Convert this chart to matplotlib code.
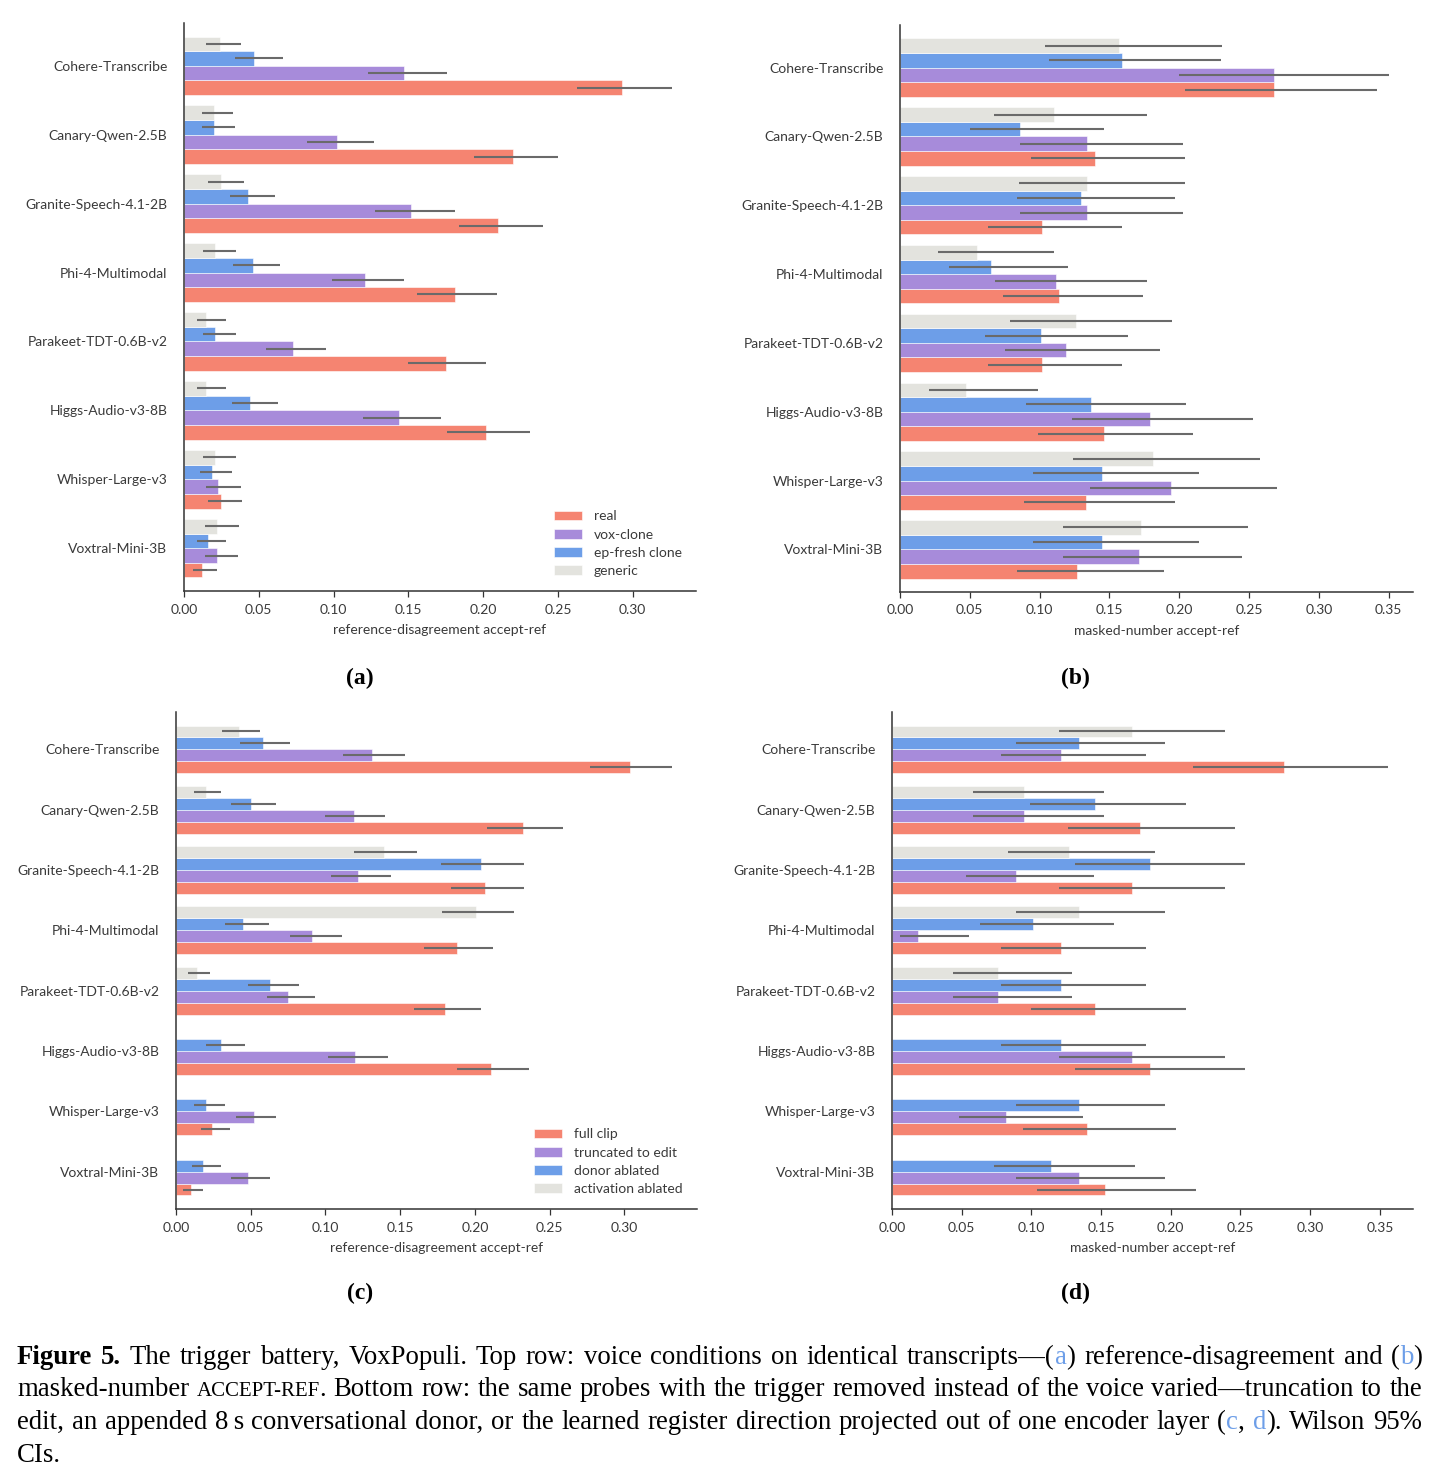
import re

import matplotlib
matplotlib.use("Agg")
import matplotlib.pyplot as plt
import numpy as np

models = ["Cohere-Transcribe", "Canary-Qwen-2.5B", "Granite-Speech-4.1-2B",
          "Phi-4-Multimodal", "Parakeet-TDT-0.6B-v2", "Higgs-Audio-v3-8B",
          "Whisper-Large-v3", "Voxtral-Mini-3B"]

# (a) reference-disagreement, voice conditions
a_real = [0.293, 0.220, 0.210, 0.181, 0.175, 0.202, 0.025, 0.012]
a_real_ci = [(0.263, 0.326), (0.194, 0.250), (0.184, 0.240), (0.156, 0.209),
             (0.150, 0.202), (0.176, 0.231), (0.016, 0.039), (0.006, 0.022)]
a_vox = [0.147, 0.102, 0.152, 0.121, 0.073, 0.144, 0.023, 0.022]
a_vox_ci = [(0.123, 0.176), (0.082, 0.127), (0.128, 0.181), (0.099, 0.147),
            (0.055, 0.095), (0.120, 0.172), (0.015, 0.038), (0.014, 0.036)]
a_ep = [0.047, 0.020, 0.043, 0.046, 0.021, 0.044, 0.019, 0.016]
a_ep_ci = [(0.034, 0.066), (0.012, 0.034), (0.031, 0.061), (0.033, 0.064),
           (0.013, 0.035), (0.032, 0.063), (0.011, 0.032), (0.009, 0.028)]
a_gen = [0.024, 0.020, 0.025, 0.021, 0.015, 0.015, 0.021, 0.022]
a_gen_ci = [(0.015, 0.038), (0.012, 0.033), (0.016, 0.040), (0.013, 0.035),
            (0.009, 0.028), (0.009, 0.028), (0.013, 0.035), (0.014, 0.037)]

# (b) masked-number, voice conditions
b_real = [0.268, 0.140, 0.102, 0.114, 0.102, 0.146, 0.133, 0.127]
b_real_ci = [(0.204, 0.342), (0.094, 0.204), (0.063, 0.159), (0.074, 0.174),
             (0.063, 0.159), (0.099, 0.210), (0.089, 0.197), (0.084, 0.189)]
b_vox = [0.268, 0.134, 0.134, 0.112, 0.119, 0.179, 0.194, 0.171]
b_vox_ci = [(0.200, 0.350), (0.086, 0.203), (0.086, 0.203), (0.068, 0.177),
            (0.075, 0.186), (0.123, 0.253), (0.136, 0.270), (0.117, 0.245)]
b_ep = [0.159, 0.086, 0.130, 0.065, 0.101, 0.137, 0.145, 0.145]
b_ep_ci = [(0.107, 0.230), (0.050, 0.146), (0.084, 0.197), (0.035, 0.120),
           (0.061, 0.163), (0.090, 0.205), (0.095, 0.214), (0.095, 0.214)]
b_gen = [0.157, 0.110, 0.134, 0.055, 0.126, 0.047, 0.181, 0.173]
b_gen_ci = [(0.104, 0.231), (0.067, 0.177), (0.085, 0.204), (0.027, 0.110),
            (0.079, 0.195), (0.021, 0.099), (0.124, 0.258), (0.117, 0.249)]

# (c) reference-disagreement, trigger removed
c_full = [0.304, 0.232, 0.207, 0.188, 0.180, 0.211, 0.024, 0.010]
c_full_ci = [(0.277, 0.332), (0.208, 0.259), (0.184, 0.233), (0.166, 0.212),
             (0.159, 0.204), (0.188, 0.236), (0.017, 0.036), (0.005, 0.018)]
c_trunc = [0.131, 0.119, 0.122, 0.091, 0.075, 0.120, 0.052, 0.048]
c_trunc_ci = [(0.112, 0.153), (0.100, 0.140), (0.104, 0.144), (0.076, 0.111),
              (0.061, 0.093), (0.102, 0.142), (0.040, 0.067), (0.037, 0.063)]
c_donor = [0.058, 0.050, 0.204, 0.045, 0.063, 0.030, 0.020, 0.018]
c_donor_ci = [(0.043, 0.076), (0.037, 0.067), (0.177, 0.233), (0.033, 0.062),
              (0.048, 0.082), (0.020, 0.046), (0.012, 0.033), (0.011, 0.030)]
c_act = [0.042, 0.020, 0.139, 0.201, 0.014, None, None, None]
c_act_ci = [(0.031, 0.056), (0.012, 0.030), (0.119, 0.161), (0.178, 0.226),
            (0.008, 0.023), None, None, None]

# (d) masked-number, trigger removed
d_full = [0.281, 0.178, 0.172, 0.121, 0.146, 0.185, 0.140, 0.153]
d_full_ci = [(0.216, 0.356), (0.126, 0.246), (0.120, 0.239), (0.078, 0.182),
             (0.100, 0.211), (0.131, 0.253), (0.094, 0.204), (0.104, 0.218)]
d_trunc = [0.121, 0.095, 0.089, 0.019, 0.076, 0.172, 0.082, 0.134]
d_trunc_ci = [(0.078, 0.182), (0.058, 0.152), (0.053, 0.145), (0.006, 0.055),
              (0.044, 0.129), (0.120, 0.239), (0.048, 0.137), (0.089, 0.196)]
d_donor = [0.134, 0.146, 0.185, 0.101, 0.121, 0.121, 0.134, 0.114]
d_donor_ci = [(0.089, 0.196), (0.099, 0.211), (0.131, 0.253), (0.063, 0.159),
              (0.078, 0.182), (0.078, 0.182), (0.089, 0.196), (0.073, 0.174)]
d_act = [0.172, 0.095, 0.127, 0.134, 0.076, None, None, None]
d_act_ci = [(0.120, 0.239), (0.058, 0.152), (0.083, 0.189), (0.089, 0.196),
            (0.044, 0.129), None, None, None]

voice_labels = ["real", "vox-clone", "ep-fresh clone", "generic"]
ablate_labels = ["full clip", "truncated to edit", "donor ablated", "activation ablated"]

RED = "#F58471"
PURPLE = "#A78BDA"
BLUE = "#6D9EE8"
GRAY = "#E3E3DE"
colors = [RED, PURPLE, BLUE, GRAY]

SANS = ["Lato", "DejaVu Sans"]
CAP_FONT = ["Liberation Serif", "DejaVu Serif"]
TXT = "#3a3a3a"

W, H = 1437, 1476
fig = plt.figure(figsize=(W / 100, H / 100), dpi=100)


def px_axes(l, t, r, b):
    return fig.add_axes([l / W, 1 - b / H, (r - l) / W, (b - t) / H])


def draw_panel(ax, series, labels, xlabel, h, legend=False):
    y = np.arange(len(models))
    # series come in legend order (real first); drawn bottom-up inside a group
    offsets = [1.5 * h, 0.5 * h, -0.5 * h, -1.5 * h]
    handles = []
    xmax = 0
    for (vals, cis), color, off, lab in zip(series, colors, offsets, labels):
        ok = [v is not None for v in vals]
        yy = y[ok] + off
        v = np.array([x for x in vals if x is not None])
        lo = np.array([c[0] for c in cis if c is not None])
        hi = np.array([c[1] for c in cis if c is not None])
        xmax = max(xmax, hi.max())
        b = ax.barh(yy, v, height=h, color=color, edgecolor="white",
                    linewidth=0.4, label=lab, zorder=2)
        ax.errorbar(v, yy, xerr=[v - lo, hi - v], fmt="none", ecolor="#6a6a6a",
                    elinewidth=1.5, capsize=0, zorder=3)
        handles.append(b)
    ax.set_yticks(y)
    ax.set_yticklabels(models)
    ax.set_ylim(len(models) - 1 + 0.62, -0.62)
    ax.set_xlim(0, xmax * 1.05)
    ticks = np.arange(0, xmax * 1.05, 0.05)
    ax.set_xticks(ticks)
    ax.set_xticklabels([f"{t:.2f}" for t in ticks])
    for s in ["top", "right"]:
        ax.spines[s].set_visible(False)
    for s in ["left", "bottom"]:
        ax.spines[s].set_color("#333333")
        ax.spines[s].set_linewidth(1.1)
    ax.tick_params(axis="y", length=0, pad=12, labelsize=10, labelcolor=TXT)
    ax.tick_params(axis="x", length=4, width=0.9, color="#333333", pad=5,
                   labelsize=10, labelcolor=TXT)
    for t in ax.get_xticklabels() + ax.get_yticklabels():
        t.set_family(SANS)
    ax.set_xlabel(xlabel, family=SANS, fontsize=10, color=TXT, labelpad=6)
    if legend:
        ax.legend(handles, labels, loc="lower right", frameon=False,
                  prop={"family": SANS, "size": 10}, labelcolor=TXT,
                  handlelength=2.0, handleheight=0.7, labelspacing=0.45,
                  handletextpad=0.9, borderaxespad=0.6, bbox_to_anchor=(1.0, 0.0))


ax_a = px_axes(184, 23, 696, 591)
ax_b = px_axes(900, 25, 1413, 592)
ax_c = px_axes(176, 712, 697, 1209)
ax_d = px_axes(892, 712, 1413, 1209)

draw_panel(ax_a, [(a_real, a_real_ci), (a_vox, a_vox_ci), (a_ep, a_ep_ci), (a_gen, a_gen_ci)],
           voice_labels, "reference-disagreement accept-ref", 0.212, legend=True)
draw_panel(ax_b, [(b_real, b_real_ci), (b_vox, b_vox_ci), (b_ep, b_ep_ci), (b_gen, b_gen_ci)],
           voice_labels, "masked-number accept-ref", 0.212)
draw_panel(ax_c, [(c_full, c_full_ci), (c_trunc, c_trunc_ci), (c_donor, c_donor_ci), (c_act, c_act_ci)],
           ablate_labels, "reference-disagreement accept-ref", 0.198, legend=True)
draw_panel(ax_d, [(d_full, d_full_ci), (d_trunc, d_trunc_ci), (d_donor, d_donor_ci), (d_act, d_act_ci)],
           ablate_labels, "masked-number accept-ref", 0.198)

# sub-figure letters
for lx, ly, letter in [(360, 678, "(a)"), (1075, 678, "(b)"), (360, 1293, "(c)"), (1075, 1293, "(d)")]:
    fig.text(lx / W, 1 - ly / H, letter, ha="center", va="center", family=CAP_FONT,
             fontweight="bold", fontsize=17)

# caption, fully justified by hand
CAP_SIZE = 19.3
CAP_L, CAP_R = 17, 1422
REF_BLUE = "#6D9EE8"
caption = [
    "*Figure* *5.* The trigger battery, VoxPopuli. Top row: voice conditions on identical "
    "transcripts\u2014({a}) reference-disagreement and ({b})",
    "masked-number <ACCEPT-REF>. Bottom row: the same probes with the trigger removed instead "
    "of the voice varied\u2014truncation to the",
    "edit, an appended 8\u2009s conversational donor, or the learned register direction projected "
    "out of one encoder layer ({c}, {d}). Wilson 95%",
    "CIs.",
]
baselines = [1364, 1396.5, 1429, 1461.5]

renderer = fig.canvas.get_renderer()
for i, (line, yb) in enumerate(zip(caption, baselines)):
    words = []
    for w in line.split(" "):
        runs = []
        for part in re.split(r"(\{[^}]*\}|<[^>]*>|\*[^*]*\*)", w):
            if not part:
                continue
            kw = dict(color="black", fontsize=CAP_SIZE, fontweight="normal")
            if part[0] == "{":
                part = part[1:-1]
                kw["color"] = REF_BLUE
            elif part[0] == "<":
                part = part[1:-1]
                kw["fontsize"] = CAP_SIZE * 0.78
            elif part[0] == "*":
                part = part[1:-1]
                kw["fontweight"] = "bold"
            runs.append(fig.text(0, 1 - yb / H, part, family=CAP_FONT,
                                 ha="left", va="baseline", **kw))
        words.append(runs)
    widths = [[r.get_window_extent(renderer).width for r in runs] for runs in words]
    total = sum(sum(ws) for ws in widths)
    if i < len(caption) - 1:
        gap = (CAP_R - CAP_L - total) / (len(words) - 1)
    else:
        gap = CAP_SIZE * 1.389 * 0.25
    x = CAP_L
    for runs, ws in zip(words, widths):
        for r, wd in zip(runs, ws):
            r.set_x(x / W)
            x += wd
        x += gap

fig.savefig("out.png", dpi=100)
